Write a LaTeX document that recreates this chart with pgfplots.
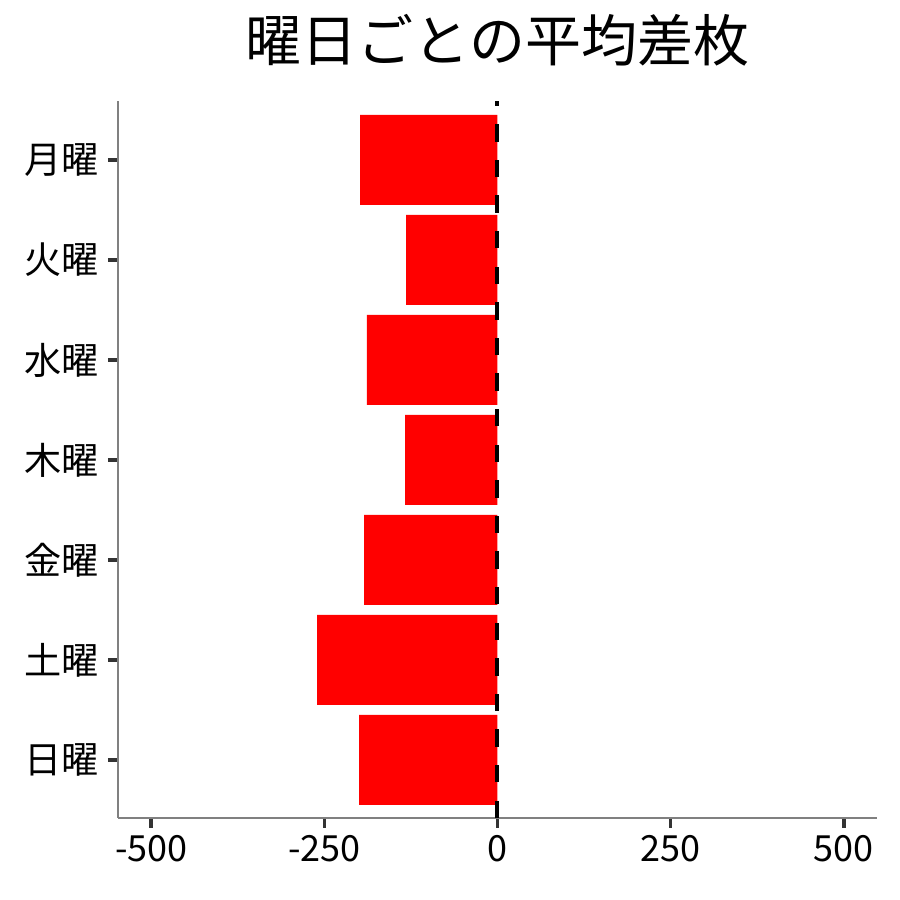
\documentclass[border=0pt]{standalone}
\usepackage{pgfplots}
\pgfplotsset{compat=1.18}
\usepackage{fontspec}
\setmainfont{Noto Sans CJK JP}
\definecolor{tickc}{HTML}{333333}
\definecolor{axc}{HTML}{808080}
\begin{document}
\begin{tikzpicture}
\useasboundingbox (0,0) rectangle (450pt,450pt);
\begin{axis}[
  at={(59pt,41pt)}, anchor=south west,
  scale only axis, width=379.5pt, height=358.5pt,
  xmin=-548, xmax=548, ymin=0.42, ymax=7.59,
  axis x line*=bottom, axis y line*=left,
  axis line style={axc, line width=0.9pt, -},
  xtick={-500,-250,0,250,500},
  xticklabels={{-500},{-250},{0},{250},{500}},
  ytick={1,2,3,4,5,6,7},
  yticklabels={日曜,土曜,金曜,木曜,水曜,火曜,月曜},
  tick align=outside, major tick length=5pt,
  tick style={tickc, line width=1.8pt},
  ticklabel style={font=\fontsize{18pt}{20pt}\selectfont, text=black},
  yticklabel style={font=\fontsize{18.6pt}{20pt}\selectfont, xshift=-1pt},
  xbar, bar width=0.9, bar shift=0pt,
]
\addplot[fill=red, draw=none] coordinates {
 (-199.9,1) (-260.5,2) (-192.6,3) (-133.4,4) (-188.7,5) (-131.9,6) (-198.4,7)};
\addplot[black, line width=2pt, dash pattern=on 8.7pt off 9.1pt, xbar=false, sharp plot] coordinates {(0,0.42) (0,7.59)};
\end{axis}
\node[anchor=base, font=\fontsize{28pt}{30pt}\selectfont] at (248.75pt,419pt) {曜日ごとの平均差枚};
\end{tikzpicture}
\end{document}
